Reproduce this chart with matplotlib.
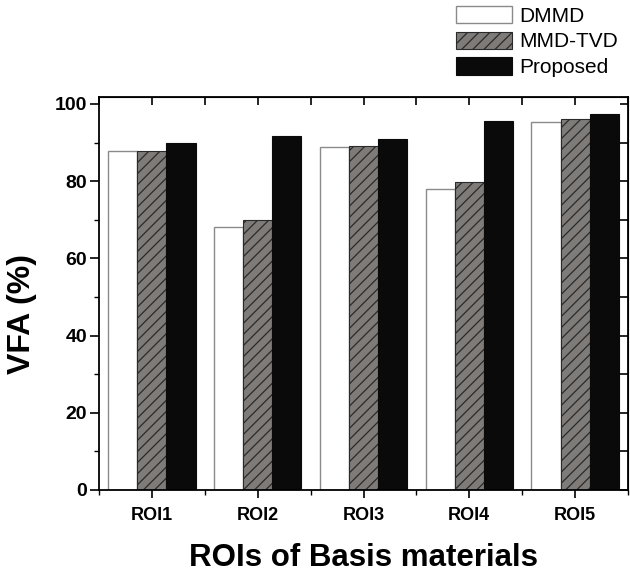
import matplotlib.pyplot as plt
import numpy as np
from matplotlib.ticker import MultipleLocator

plt.rcParams['font.family'] = ['Liberation Sans', 'DejaVu Sans']
plt.rcParams['hatch.color'] = '#2a2a2a'
plt.rcParams['hatch.linewidth'] = 0.9

categories = ['ROI1', 'ROI2', 'ROI3', 'ROI4', 'ROI5']
dmmd = [87.8, 68.1, 88.9, 78.0, 95.4]
mmd_tvd = [87.9, 70.0, 89.0, 79.9, 96.2]
proposed = [89.9, 91.8, 90.8, 95.7, 97.4]

fig = plt.figure(figsize=(6.3, 5.72), dpi=100)
ax = fig.add_axes([99 / 630, 82 / 572, 529 / 630, 393 / 572])

x = np.arange(len(categories))
w = 0.275
ax.bar(x - w, dmmd, w, color='white', edgecolor='#8a8a8a', linewidth=1.0, label='DMMD')
ax.bar(x, mmd_tvd, w, color='#7f7b78', edgecolor='#2a2a2a', linewidth=0.8,
       hatch='///', label='MMD-TVD')
ax.bar(x + w, proposed, w, color='#0a0a0a', edgecolor='#0a0a0a', linewidth=0.8,
       label='Proposed')

ax.set_xlim(-0.5, 4.5)
ax.set_ylim(0, 101.8)
ax.set_xticks(x)
ax.set_xticks(np.arange(-0.5, 4.6, 1.0), minor=True)
ax.set_xticklabels(categories, fontsize=13, fontweight='bold')
ax.yaxis.set_major_locator(MultipleLocator(20))
ax.yaxis.set_minor_locator(MultipleLocator(10))
for lab in ax.get_yticklabels():
    lab.set_fontweight('bold')
    lab.set_fontsize(14)

ax.tick_params(axis='y', which='major', direction='out', length=6.5, width=1.2, pad=2)
ax.tick_params(axis='y', which='minor', direction='out', length=3.5, width=1.0)
ax.tick_params(axis='x', which='major', direction='out', length=6, width=1.2, pad=6)
ax.tick_params(axis='x', which='minor', direction='out', length=3.5, width=1.0)
for s in ax.spines.values():
    s.set_linewidth(1.3)

# top and right ticks (inward)
axt = ax.secondary_xaxis('top')
axt.set_xticks(np.arange(-0.5, 4.6, 0.5))
axt.set_xticklabels([])
axt.tick_params(direction='in', length=6, width=1.2)
axr = ax.secondary_yaxis('right')
axr.set_yticks(np.arange(0, 101, 10))
axr.set_yticklabels([])
axr.tick_params(direction='in', length=6, width=1.2)

ax.set_ylabel('VFA (%)', fontsize=23, fontweight='bold')
ax.yaxis.set_label_coords(-0.118, 0.448)
ax.set_xlabel('ROIs of Basis materials', fontsize=22.5, fontweight='bold', labelpad=14)

fig.legend(loc='upper left', bbox_to_anchor=(456 / 630, 1 - 6 / 572), frameon=False,
           fontsize=15, handlelength=2.7, handleheight=0.9, handletextpad=0.35,
           labelspacing=0.28, borderpad=0, borderaxespad=0)

fig.savefig('out.png', dpi=100)
